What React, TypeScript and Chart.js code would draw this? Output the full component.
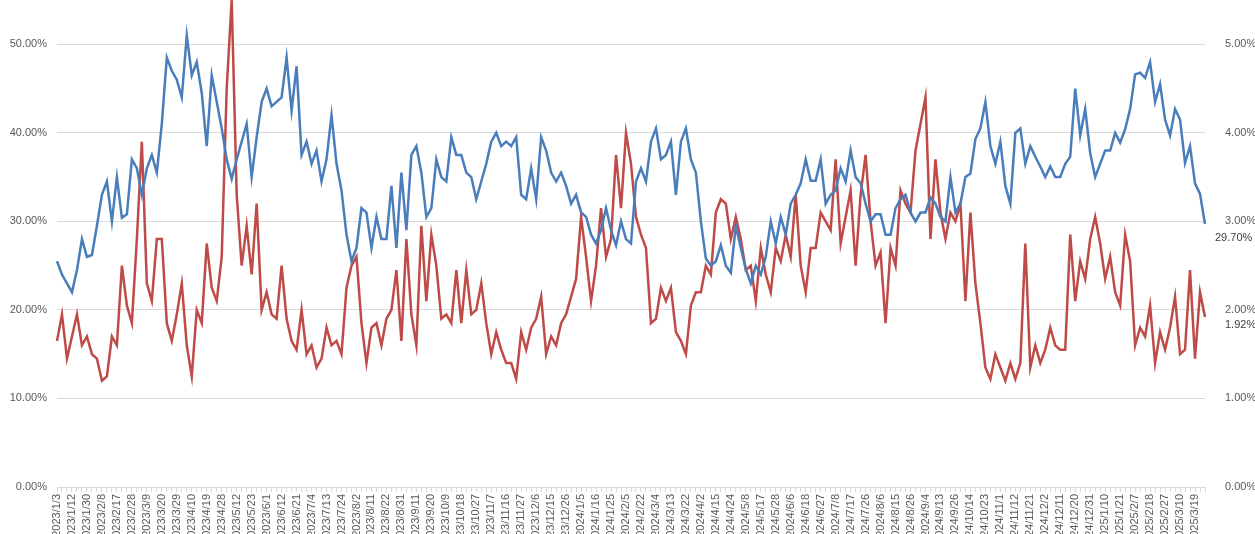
import React, { useEffect, useRef } from 'react';
import { Chart, registerables } from 'chart.js';

Chart.register(...registerables);

// tick labels, one every 3 points
const tickLabels = [
  '2023/1/3', '2023/1/12', '2023/1/30', '2023/2/8', '2023/2/17', '2023/2/28', '2023/3/9', '2023/3/20', '2023/3/29',
  '2023/4/10', '2023/4/19', '2023/4/28', '2023/5/12', '2023/5/23', '2023/6/1', '2023/6/12', '2023/6/21', '2023/7/4',
  '2023/7/13', '2023/7/24', '2023/8/2', '2023/8/11', '2023/8/22', '2023/8/31', '2023/9/11', '2023/9/20', '2023/10/9',
  '2023/10/18', '2023/10/27', '2023/11/7', '2023/11/16', '2023/11/27', '2023/12/6', '2023/12/15', '2023/12/26',
  '2024/1/5', '2024/1/16', '2024/1/25', '2024/2/5', '2024/2/22', '2024/3/4', '2024/3/13', '2024/3/22', '2024/4/2',
  '2024/4/15', '2024/4/24', '2024/5/8', '2024/5/17', '2024/5/28', '2024/6/6', '2024/6/18', '2024/6/27', '2024/7/8',
  '2024/7/17', '2024/7/26', '2024/8/6', '2024/8/15', '2024/8/26', '2024/9/4', '2024/9/13', '2024/9/26', '2024/10/14',
  '2024/10/23', '2024/11/1', '2024/11/12', '2024/11/21', '2024/12/2', '2024/12/11', '2024/12/20', '2024/12/31',
  '2025/1/10', '2025/1/21', '2025/2/7', '2025/2/18', '2025/2/27', '2025/3/10', '2025/3/19',
];

// left axis, %
const blueSeries = [
  25.5, 24, 23, 22, 24.5, 28, 26, 26.2, 29.5, 33, 34.5, 30, 35, 30.4, 30.8, 37, 36, 33,
  36, 37.5, 35.5, 41, 48.5, 47, 46, 44, 51, 46.5, 48, 44.5, 38.5, 46.5, 43.5, 40.5, 37, 34.8,
  37, 39, 41, 35, 39.5, 43.5, 45, 43, 43.5, 44, 48.5, 42.5, 47.5, 37.5, 39, 36.5, 38, 34.5,
  37, 42, 36.5, 33.5, 28.5, 25.5, 27, 31.5, 31, 27, 30.5, 28, 28, 34, 27, 35.5, 29, 37.5,
  38.5, 35.5, 30.5, 31.5, 37, 35, 34.5, 39.5, 37.5, 37.5, 35.5, 35, 32.5, 34.5, 36.5,
  39, 40, 38.5, 39, 38.5, 39.5, 33, 32.5, 36, 32.5, 39.5, 38, 35.5, 34.5, 35.5, 34, 32, 33,
  31, 30.5, 28.5, 27.5, 29, 31.5, 29, 27.3, 30, 28, 27.5, 34.5, 36, 34.5, 39, 40.5, 37, 37.5,
  39, 33, 39, 40.5, 37, 35.5, 30, 25.8, 25, 25.5, 27.3, 25, 24.2, 29.5, 27, 24.6, 23, 25,
  24, 26, 30, 27.5, 30.5, 28.5, 32, 33, 34.3, 37, 34.6, 34.6, 37, 32, 33,
  33.5, 36, 34.5, 38, 35, 34.3, 32, 30, 30.8, 30.8, 28.5, 28.5, 31.5, 32.5, 33, 31, 30, 31,
  31, 32.7, 32, 30.5, 30, 35, 31, 32, 35, 35.4, 39.3, 40.5, 43.5, 38.5, 36.5, 39, 34, 32,
  40, 40.5, 36.5, 38.5, 37.3, 36.2, 35, 36.2, 35, 35, 36.5, 37.3, 45, 39.7, 42.7, 37.7, 35, 36.5,
  38, 38, 40, 38.9, 40.4, 42.7, 46.6, 46.8, 46.2, 48, 43.5, 45.5, 41.5, 39.7, 42.7, 41.5, 36.6, 38.5,
  34.3, 33.1, 29.7,
];

// right axis, %
const redSeries = [
  1.65, 1.95, 1.45, 1.7, 1.95, 1.6, 1.7, 1.5, 1.45, 1.2, 1.25, 1.7, 1.6, 2.5, 2.05, 1.85, 2.8, 3.9,
  2.3, 2.1, 2.8, 2.8, 1.85, 1.65, 1.95, 2.3, 1.6, 1.25, 2.0, 1.85, 2.75, 2.25, 2.1, 2.6, 4.5, 5.5,
  3.3, 2.5, 2.95, 2.4, 3.2, 2.0, 2.2, 1.95, 1.9, 2.5, 1.9, 1.65, 1.55, 2.0, 1.5, 1.6, 1.35, 1.45,
  1.8, 1.6, 1.65, 1.5, 2.25, 2.5, 2.6, 1.85, 1.4, 1.8, 1.85, 1.6, 1.9, 2.0, 2.45, 1.65, 2.8, 1.95,
  1.6, 2.95, 2.1, 2.85, 2.5, 1.9, 1.95, 1.85, 2.45, 1.85, 2.45, 1.95, 2.0, 2.3, 1.85,
  1.5, 1.75, 1.55, 1.4, 1.4, 1.22, 1.75, 1.55, 1.8, 1.9, 2.15, 1.5, 1.7, 1.6, 1.85, 1.95, 2.15, 2.35,
  3.05, 2.6, 2.1, 2.5, 3.15, 2.6, 2.8, 3.75, 3.15, 4.0, 3.65, 3.05, 2.85, 2.7, 1.85, 1.9, 2.25, 2.1,
  2.25, 1.75, 1.65, 1.5, 2.05, 2.2, 2.2, 2.5, 2.4, 3.1, 3.25, 3.2, 2.8, 3.05, 2.8, 2.45, 2.5, 2.1,
  2.7, 2.4, 2.2, 2.7, 2.55, 2.85, 2.6, 3.3, 2.5, 2.2, 2.7, 2.7, 3.1, 3.0, 2.9,
  3.7, 2.75, 3.05, 3.35, 2.5, 3.3, 3.75, 3.0, 2.5, 2.65, 1.85, 2.7, 2.5, 3.35, 3.2, 3.1, 3.8, 4.1,
  4.4, 2.8, 3.7, 3.1, 2.8, 3.1, 3.0, 3.2, 2.1, 3.1, 2.3, 1.85, 1.35, 1.22, 1.5, 1.35, 1.2, 1.4,
  1.22, 1.4, 2.75, 1.35, 1.6, 1.4, 1.55, 1.8, 1.6, 1.55, 1.55, 2.85, 2.1, 2.55, 2.35, 2.8, 3.05, 2.75,
  2.35, 2.6, 2.2, 2.05, 2.85, 2.55, 1.6, 1.8, 1.7, 2.05, 1.4, 1.75, 1.55, 1.8, 2.15, 1.5, 1.55, 2.45,
  1.45, 2.2, 1.92,
];

const labels = blueSeries.map((_, i) => (i % 3 === 0 ? tickLabels[i / 3] ?? '' : ''));

const FONT = '"Liberation Sans", Arial, sans-serif';
const GREY = '#595959';

const endLabels = {
  id: 'endLabels',
  afterDatasetsDraw(chart: any) {
    const ctx = chart.ctx;
    ctx.save();
    ctx.font = `11px ${FONT}`;
    ctx.fillStyle = '#404040';
    ctx.textAlign = 'left';
    ctx.textBaseline = 'middle';
    const x = chart.scales.x.getPixelForValue(blueSeries.length - 1);
    const yb = chart.scales.y.getPixelForValue(blueSeries[blueSeries.length - 1]);
    const yr = chart.scales.y1.getPixelForValue(redSeries[redSeries.length - 1]);
    ctx.fillText(blueSeries[blueSeries.length - 1].toFixed(2) + '%', x + 10, yb + 14);
    ctx.fillText(redSeries[redSeries.length - 1].toFixed(2) + '%', x + 20, yr + 8);
    ctx.restore();
  },
};

const App: React.FC = () => {
  const canvasRef = useRef<HTMLCanvasElement>(null);
  const chartRef = useRef<Chart>();

  useEffect(() => {
    document.body.style.margin = '0';
    if (canvasRef.current) {
      const ctx = canvasRef.current.getContext('2d');
      if (ctx) {
        chartRef.current = new Chart(ctx, {
          type: 'line',
          data: {
            labels,
            datasets: [
              {
                data: blueSeries,
                borderColor: '#4a7ebb',
                borderWidth: 2.5,
                pointRadius: 0,
                yAxisID: 'y',
                tension: 0,
                clip: false,
              },
              {
                data: redSeries,
                borderColor: '#be4b48',
                borderWidth: 2.5,
                pointRadius: 0,
                yAxisID: 'y1',
                tension: 0,
                clip: false,
              },
            ],
          },
          plugins: [endLabels],
          options: {
            animation: false,
            responsive: true,
            maintainAspectRatio: false,
            plugins: { legend: { display: false }, tooltip: { enabled: false } },
            scales: {
              x: {
                grid: { display: true, drawOnChartArea: false, tickLength: 5, color: '#d9d9d9' },
                border: { color: '#d9d9d9' },
                ticks: {
                  autoSkip: false,
                  maxRotation: 90,
                  minRotation: 90,
                  color: GREY,
                  font: { family: FONT, size: 11 },
                  padding: 2,
                },
                afterFit: (s: any) => { s.height = 47; },
              },
              y: {
                position: 'left',
                min: 0,
                max: 52.9,
                afterBuildTicks: (s: any) => { s.ticks = s.ticks.filter((t: any) => t.value <= 50 && t.value % 10 === 0); },
                ticks: {
                  stepSize: 10,
                  color: GREY,
                  font: { family: FONT, size: 11 },
                  callback: (v: any) => Number(v).toFixed(2) + '%',
                  padding: 10,
                },
                grid: { color: '#d9d9d9', drawTicks: false },
                border: { display: false },
                afterFit: (s: any) => { s.width = 57; },
              },
              y1: {
                position: 'right',
                min: 0,
                max: 5.29,
                afterBuildTicks: (s: any) => { s.ticks = s.ticks.filter((t: any) => t.value <= 5.0001); },
                ticks: {
                  stepSize: 1,
                  color: GREY,
                  font: { family: FONT, size: 11 },
                  callback: (v: any) => Number(v).toFixed(2) + '%',
                  padding: 12,
                },
                grid: { display: false },
                border: { display: false },
                afterFit: (s: any) => { s.width = 50; },
              },
            },
          },
        });
      }
    }
    return () => {
      if (chartRef.current) {
        chartRef.current.destroy();
      }
    };
  }, []);

  return (
    <div style={{ width: 1255, height: 534, position: 'relative', background: '#fff' }}>
      <canvas ref={canvasRef} />
    </div>
  );
};

export default App;
